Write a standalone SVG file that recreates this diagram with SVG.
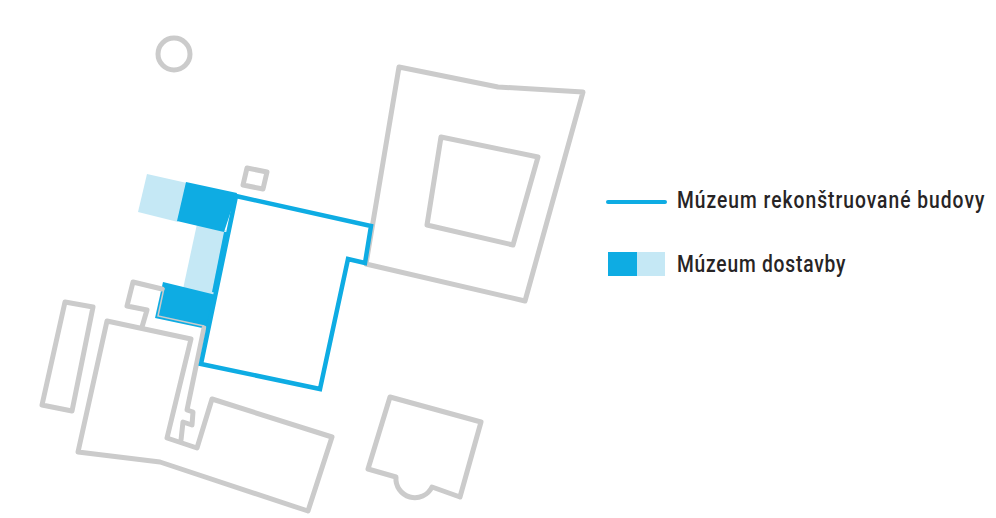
<svg xmlns="http://www.w3.org/2000/svg" width="996" height="518" viewBox="0 0 996 518">
<style>
.g{fill:none;stroke:#cbcbcb;stroke-width:5;stroke-linejoin:round;stroke-linecap:round}
.b{fill:none;stroke:#0eace3;stroke-width:4.5;stroke-linejoin:miter}
.d{fill:#0eace3}
.l{fill:#c5e8f5}
.t{font-family:"Roboto","Liberation Sans",sans-serif;font-weight:500;font-size:24px;letter-spacing:1px;fill:#272425}
</style>
<rect width="996" height="518" fill="#fff"/>
<g id="additions">
<polygon class="l" points="147,174 187,183 178,222 138,212"/>
<polygon class="l" points="197,224 226,230 213,296 183,289"/>
<polygon class="d" points="186,182 237,193 224,232 177,221"/>
<polygon class="d" points="224,232 212,292 217,293 230,232"/>
<polygon class="d" points="163,282 216,295 207,329 155,318"/>
</g>
<g id="surroundings">
<circle class="g" cx="174" cy="54" r="16"/>
<polygon class="g" points="247,168 267,172 263,189 243,185"/>
<polygon class="g" points="399,67 498,87 583,92 525,301 366,264"/>
<polygon class="g" points="441,137 538,157 513,245 427,225"/>
<polygon class="g" points="65,302 93,307 72,411 42,405"/>
<polygon class="g" points="107,321 191,339 167,438 197,448 212,399 332,437 308,511 160,462 78,452"/>
<polyline class="g" points="142,327 147,310 127,306 133,282 162,289"/>
<polyline class="g" points="204,328 187,410 193,412 192,425 183,422 181,440"/>
<path class="g" d="M390,397 L481,422 L460,497 L432,487 A19,19 0 0 1 396,477 L368,469 Z"/>
<polyline points="164,288 158,316 204,326" fill="none" stroke="#cbcbcb" stroke-width="1.5"/>
</g>
<g id="museum">
<polygon class="b" points="236,196 371,226 365,263 348,259 320,389 201,364"/>
</g>
<g id="legend">
<line x1="608" y1="202" x2="665" y2="202" stroke="#0eace3" stroke-width="4" stroke-linecap="round"/>
<rect class="d" x="608" y="252" width="29" height="24"/>
<rect class="l" x="637" y="252" width="28" height="24"/>
<text class="t" transform="translate(677,208) scale(.8,1)" style="letter-spacing:1.28px">Múzeum rekonštruované budovy</text>
<text class="t" transform="translate(677,272) scale(.8,1)">Múzeum dostavby</text>
</g>
</svg>
